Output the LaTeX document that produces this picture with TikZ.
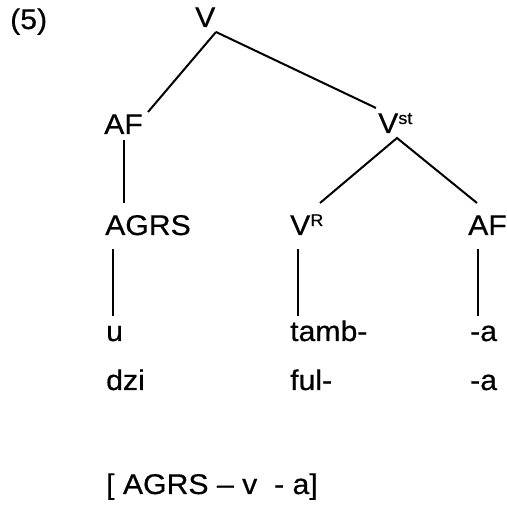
\documentclass[tikz,border=0pt]{standalone}
\usepackage{fontspec}
\setmainfont[FakeStretch=1.06,FakeBold=0.5]{Liberation Sans}
\newcommand\supst[1]{{\fontsize{17}{17}\selectfont\raisebox{9pt}{#1}}}

\begin{document}
\begin{tikzpicture}[x=1pt,y=1pt,
        lbl/.style={anchor=base west,inner sep=0pt,font=\fontsize{28.5}{28.5}\selectfont},
        branch/.style={line width=2pt}]
            \useasboundingbox (0,0) rectangle (507,506);
            % labels of the tree
            \node[lbl] (ex) at (10,477) {(5)};
            \node[lbl] (v) at (195,479) {V};
            \node[lbl] (afl) at (104,372) {AF};
            \node[lbl] (vst) at (378,373) {V\supst{st}};
            \node[lbl] (agrs) at (105,271) {AGRS};
            \node[lbl] (vr) at (290,271) {V\supst{R}};
            \node[lbl] (afr) at (468,271) {AF};
            % morphs
            \node[lbl] (u) at (106,165) {u};
            \node[lbl] (tamb) at (290,165) {tamb-};
            \node[lbl] (ar) at (470,165) {-a};
            \node[lbl] (dzi) at (106,116) {dzi};
            \node[lbl] (ful) at (290,116) {ful-};
            \node[lbl] (ab) at (470,116) {-a};
            \node[lbl] (tmpl) at (106,12) {[ AGRS -- v\ \ - a]};

            \draw[branch] ([shift={(21,-5)}]v.base west) -- ([shift={(44,22)}]afl.base west);
            \draw[branch] ([shift={(21,-5)}]v.base west) -- ([shift={(-2,25)}]vst.base west);
            \draw[branch] ([shift={(20,-6)}]afl.base west) -- ([shift={(19,32)}]agrs.base west);
            \draw[branch] ([shift={(30,32)}]vr.base west) -- ([shift={(19,-5)}]vst.base west)
                -- ([shift={(9,32)}]afr.base west);
            \draw[branch] ([shift={(8,-14)}]agrs.base west) -- ([shift={(7,25)}]u.base west);
            \draw[branch] ([shift={(8,-14)}]vr.base west) -- ([shift={(8,25)}]tamb.base west);
            \draw[branch] ([shift={(10,-14)}]afr.base west) -- ([shift={(8,25)}]ar.base west);
\end{tikzpicture}
\end{document}
